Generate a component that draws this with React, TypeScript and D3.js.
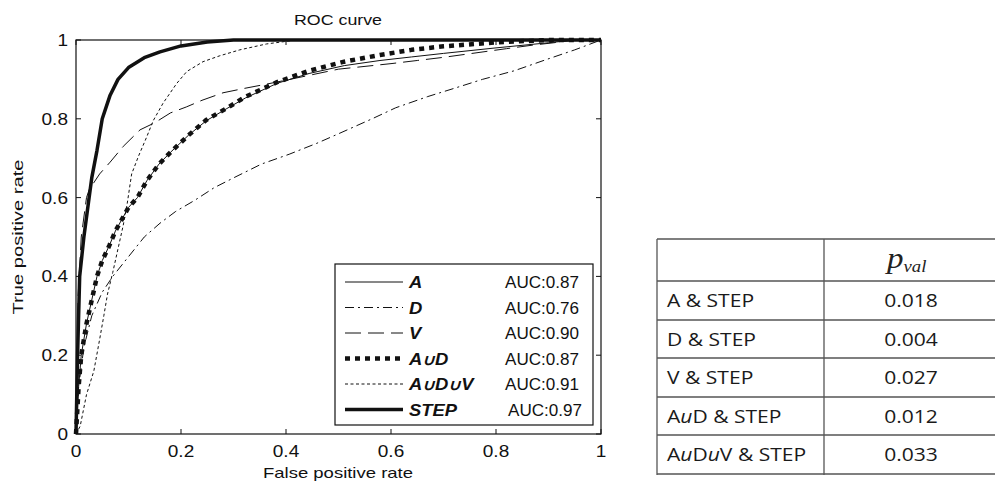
import React from "react";
import * as d3 from "d3";

type Pt = [number, number];

const seriesNames = ["A", "D", "V", "A∪D", "A∪D∪V", "STEP"];
const aucLabels = ["AUC:0.87", "AUC:0.76", "AUC:0.90", "AUC:0.87", "AUC:0.91", "AUC:0.97"];

const curveA: Pt[] = [
  [0, 0], [0.005, 0.12], [0.01, 0.2], [0.02, 0.28], [0.03, 0.34], [0.04, 0.4], [0.05, 0.44],
  [0.064, 0.48], [0.075, 0.515], [0.1, 0.575], [0.117, 0.6], [0.135, 0.643], [0.158, 0.685],
  [0.18, 0.715], [0.214, 0.758], [0.248, 0.795], [0.286, 0.825], [0.323, 0.853], [0.383, 0.89],
  [0.444, 0.915], [0.511, 0.935], [0.579, 0.948], [0.639, 0.957], [0.7, 0.966], [0.8, 0.98],
  [0.9, 0.993], [0.95, 1], [1, 1],
];
const curveD: Pt[] = [
  [0, 0], [0.005, 0.12], [0.015, 0.22], [0.03, 0.3], [0.05, 0.36], [0.07, 0.4], [0.1, 0.45],
  [0.13, 0.5], [0.16, 0.535], [0.19, 0.565], [0.226, 0.593], [0.263, 0.625], [0.3, 0.65],
  [0.353, 0.685], [0.406, 0.71], [0.459, 0.738], [0.5, 0.762], [0.564, 0.8], [0.609, 0.828],
  [0.669, 0.856], [0.722, 0.878], [0.774, 0.9], [0.835, 0.922], [0.895, 0.95], [0.95, 0.975], [1, 1],
];
const curveV: Pt[] = [
  [0, 0], [0.004, 0.35], [0.01, 0.5], [0.02, 0.6], [0.025, 0.62], [0.045, 0.66], [0.065, 0.69],
  [0.09, 0.73], [0.122, 0.772], [0.15, 0.79], [0.18, 0.815], [0.21, 0.83], [0.24, 0.847],
  [0.28, 0.866], [0.32, 0.877], [0.363, 0.888], [0.4, 0.898], [0.45, 0.912], [0.5, 0.926],
  [0.6, 0.94], [0.65, 0.948], [0.7, 0.956], [0.76, 0.967], [0.82, 0.978], [0.87, 0.987],
  [0.91, 0.993], [0.95, 1], [1, 1],
];
const curveAD: Pt[] = [
  [0, 0], [0.005, 0.12], [0.01, 0.2], [0.02, 0.28], [0.03, 0.34], [0.04, 0.4], [0.05, 0.44],
  [0.064, 0.48], [0.075, 0.515], [0.1, 0.575], [0.117, 0.6], [0.135, 0.643], [0.158, 0.685],
  [0.18, 0.715], [0.214, 0.758], [0.248, 0.797], [0.286, 0.826], [0.323, 0.856], [0.383, 0.893],
  [0.444, 0.922], [0.511, 0.945], [0.579, 0.962], [0.639, 0.975], [0.7, 0.984], [0.8, 0.994],
  [0.9, 1], [1, 1],
];
const curveADV: Pt[] = [
  [0, 0], [0.008, 0.02], [0.02, 0.1], [0.034, 0.16], [0.045, 0.24], [0.053, 0.3], [0.06, 0.355],
  [0.07, 0.41], [0.08, 0.47], [0.09, 0.53], [0.097, 0.58], [0.106, 0.66], [0.119, 0.705],
  [0.135, 0.755], [0.147, 0.795], [0.166, 0.84], [0.192, 0.89], [0.211, 0.92], [0.242, 0.945],
  [0.274, 0.96], [0.312, 0.975], [0.363, 0.99], [0.42, 1], [1, 1],
];
const curveSTEP: Pt[] = [
  [0, 0], [0.003, 0.2], [0.007, 0.4], [0.015, 0.5], [0.02, 0.55], [0.025, 0.6], [0.03, 0.65],
  [0.04, 0.72], [0.05, 0.8], [0.065, 0.86], [0.08, 0.9], [0.1, 0.93], [0.13, 0.955],
  [0.16, 0.97], [0.2, 0.985], [0.25, 0.995], [0.3, 1], [1, 1],
];

const xTicks = [0, 0.2, 0.4, 0.6, 0.8, 1];
const yTicks = [0, 0.2, 0.4, 0.6, 0.8, 1];

const tableRows = ["A & STEP", "D & STEP", "V & STEP", "AuD & STEP", "AuDuV & STEP"];
const pValues = ["0.018", "0.004", "0.027", "0.012", "0.033"];

const curves = [curveA, curveD, curveV, curveAD, curveADV, curveSTEP];
const styles = [
  { w: 1, dash: "none" },
  { w: 1, dash: "9 4 2 4" },
  { w: 1, dash: "16 7" },
  { w: 4.5, dash: "5 5" },
  { w: 1, dash: "3 2.5" },
  { w: 3.5, dash: "none" },
];
const drawOrder = [1, 2, 0, 4, 3, 5];

const SANS = "'Liberation Sans', Arial, sans-serif";
const TBL = "'Open Sans', 'Noto Sans', sans-serif";

// text stretched horizontally around its anchor point
function ST(props: { x: number; y: number; sx: number; children: any; [k: string]: any }) {
  const { x, y, sx, children, ...rest } = props;
  return (
    <g transform={`translate(${x},${y}) scale(${sx},1)`}>
      <text x={0} y={0} {...rest}>{children}</text>
    </g>
  );
}

function renderLabel(name: string, x: number, y: number) {
  const parts = name.split("∪");
  return (
    <ST x={x} y={y} sx={1.15} fontFamily={SANS} fontSize={16} fontWeight="bold" fontStyle="italic" fill="#111">
      {parts.map((p, i) => (
        <tspan key={i}>
          {p}
          {i < parts.length - 1 ? <tspan fontSize={15}>{"\u222A"}</tspan> : null}
        </tspan>
      ))}
    </ST>
  );
}

function renderRowLabel(name: string, x: number, y: number) {
  const chars = name.split(/(u)/);
  return (
    <ST x={x} y={y} sx={1.17} fontFamily={TBL} fontSize={18} fill="#1a1a1a">
      {chars.map((c, i) =>
        c === "u" ? <tspan key={i} fontStyle="italic">u</tspan> : <tspan key={i}>{c}</tspan>
      )}
    </ST>
  );
}

export default function App() {
  const W = 995, H = 484;
  const x = d3.scaleLinear().domain([0, 1]).range([76, 601]);
  const y = d3.scaleLinear().domain([0, 1]).range([434, 40]);
  const line = d3.line<Pt>().x(d => x(d[0])).y(d => y(d[1])).curve(d3.curveLinear);

  const lg = { x0: 335, y0: 264, x1: 593, y1: 425 };
  const rowY = d3.range(6).map(i => 282 + i * 25.5);

  const tX0 = 657, tDiv = 824, tX1 = 995;
  const hLines = [239, 281, 320, 358, 397, 435, 474];

  return (
    <svg width={W} height={H} style={{ position: "absolute", left: 0, top: 0, background: "#fff" }}>
      <rect x={0} y={0} width={W} height={H} fill="#fff" />
      <text x={338} y={25} textAnchor="middle" fontFamily={SANS} fontSize={14} fill="#111" textLength={88} lengthAdjust="spacingAndGlyphs">ROC curve</text>

      <g fill="none" stroke="#111" strokeLinejoin="round">
        {drawOrder.map(i => (
          <path key={i} d={line(curves[i]) || ""} strokeWidth={styles[i].w}
            strokeDasharray={styles[i].dash === "none" ? undefined : styles[i].dash} />
        ))}
      </g>

      <rect x={x(0)} y={y(1)} width={x(1) - x(0)} height={y(0) - y(1)} fill="none" stroke="#111" strokeWidth={1.2} />
      {xTicks.map(t => (
        <g key={"xt" + t}>
          <line x1={x(t)} x2={x(t)} y1={y(0)} y2={y(0) - 5} stroke="#111" />
          <line x1={x(t)} x2={x(t)} y1={y(1)} y2={y(1) + 5} stroke="#111" />
          <ST x={x(t)} y={457} sx={1.12} textAnchor="middle" fontFamily={SANS} fontSize={17} fill="#111">{d3.format("~g")(t)}</ST>
        </g>
      ))}
      {yTicks.map(t => (
        <g key={"yt" + t}>
          <line x1={x(0)} x2={x(0) + 5} y1={y(t)} y2={y(t)} stroke="#111" />
          <line x1={x(1)} x2={x(1) - 5} y1={y(t)} y2={y(t)} stroke="#111" />
          <ST x={68} y={y(t) + 6} sx={1.12} textAnchor="end" fontFamily={SANS} fontSize={17} fill="#111">{d3.format("~g")(t)}</ST>
        </g>
      ))}
      <text x={338} y={478} textAnchor="middle" fontFamily={SANS} fontSize={15} fill="#111" textLength={150} lengthAdjust="spacingAndGlyphs">False positive rate</text>
      <text transform="translate(23,237) rotate(-90)" textAnchor="middle" fontFamily={SANS} fontSize={15} fill="#111" textLength={155} lengthAdjust="spacingAndGlyphs">True positive rate</text>

      <rect x={lg.x0} y={lg.y0} width={lg.x1 - lg.x0} height={lg.y1 - lg.y0} fill="#fff" stroke="#111" strokeWidth={1.2} />
      {seriesNames.map((n, i) => (
        <g key={n}>
          <line x1={345} x2={403} y1={rowY[i]} y2={rowY[i]} stroke="#111" strokeWidth={styles[i].w}
            strokeDasharray={styles[i].dash === "none" ? undefined : styles[i].dash} />
          {renderLabel(n, 409, rowY[i] + 6)}
          <text x={i === 5 ? 508 : 505} y={rowY[i] + 6} fontFamily={SANS} fontSize={16} fill="#111" textLength={74} lengthAdjust="spacingAndGlyphs">{aucLabels[i]}</text>
        </g>
      ))}

      <g stroke="#555" strokeWidth={1.3}>
        {hLines.map(h => <line key={h} x1={tX0} x2={tX1} y1={h} y2={h} />)}
        <line x1={tX0} x2={tX0} y1={hLines[0]} y2={hLines[6] + 1} />
        <line x1={tDiv} x2={tDiv} y1={hLines[0]} y2={hLines[6] + 1} />
      </g>
      <ST x={887} y={268} sx={1.1} fontFamily="'Liberation Serif', 'Times New Roman', serif" fontStyle="italic" fontSize={30} fill="#222">
        p<tspan fontSize={17} dy={4}>val</tspan>
      </ST>
      {tableRows.map((r, i) => {
        const cy = (hLines[i + 1] + hLines[i + 2]) / 2;
        return (
          <g key={r}>
            {renderRowLabel(r, 667, cy + 6.5)}
            <ST x={911} y={cy + 6.5} sx={1.17} textAnchor="middle" fontFamily={TBL} fontSize={18} fill="#1a1a1a">{pValues[i]}</ST>
          </g>
        );
      })}
    </svg>
  );
}
